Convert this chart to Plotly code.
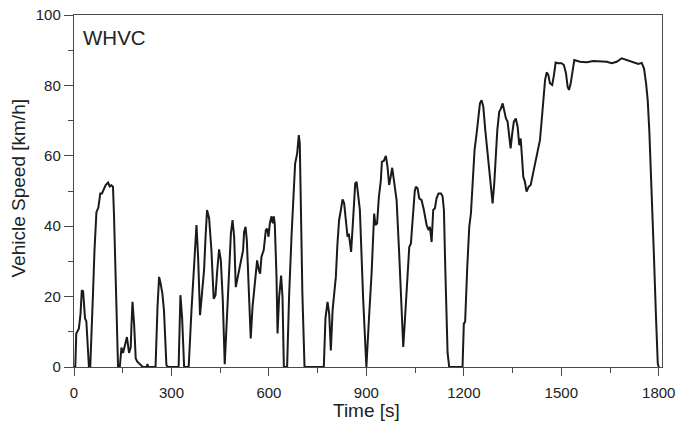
import plotly.graph_objects as go

time_s = [0, 4, 7, 15, 20, 24, 28, 31, 34, 38, 43, 46, 50, 54, 58.5, 63, 69, 75, 81, 86,
          91.5, 97.6, 105, 110, 115, 120, 123, 127, 130.6, 135.6, 141, 146, 151, 157, 163,
          169.5, 174.6, 177, 180, 185, 190, 195, 200, 212, 224, 226, 228, 251, 257, 262,
          266, 272, 277, 284.5, 290, 322, 327.6, 332.7, 339, 353, 361.6, 369.6, 377, 382,
          388, 394, 400.4, 405, 409.6, 416, 423, 430, 435.5, 441, 446.6, 452, 458, 464,
          470, 477.5, 483, 488, 493, 498, 505, 513.5, 520.5, 523.6, 528, 532, 538, 544,
          549.5, 556.6, 563.7, 569, 573, 577, 584, 590.5, 594.5, 598.8, 602.8, 608, 612,
          615, 618, 623.4, 626.5, 631.4, 637.6, 641.8, 646, 656, 662, 669.5, 674.5, 680.7,
          687, 692, 695, 698, 703, 709.6, 769, 774, 780.5, 785.5, 790.6, 796, 800, 806,
          811, 816, 821.5, 826.6, 831.6, 837, 842, 846, 849, 853, 859, 865.6, 870, 875,
          880, 890, 895, 900, 907.7, 916, 924, 928, 933, 938.5, 944.6, 947.7, 954, 960,
          965, 970, 974.5, 979.5, 984.7, 993, 1001, 1008.4, 1013.5, 1018.6, 1023.8, 1032,
          1037, 1044.4, 1049, 1052.6, 1057.7, 1062.8, 1070, 1077, 1085.5, 1091.6, 1095.7,
          1100.8, 1105.8, 1111, 1116, 1122, 1129.5, 1134.6, 1138.7, 1142.8, 1147, 1150,
          1155, 1196, 1200, 1204, 1210.5, 1216.7, 1221.8, 1227, 1233, 1239.4, 1244.4,
          1249.6, 1254.8, 1260, 1266, 1272, 1278, 1283.4, 1288.6, 1293.6, 1299, 1303,
          1309, 1314, 1319.5, 1324.4, 1329.6, 1334.7, 1340, 1344, 1349, 1354, 1360,
          1365.7, 1370.6, 1375, 1379, 1383, 1388, 1393, 1399.6, 1405.8, 1412, 1418, 1424,
          1430, 1434.4, 1439.6, 1444.5, 1450, 1455, 1460, 1465, 1472, 1477.5, 1482.6,
          1490.8, 1501, 1508, 1514.5, 1519.6, 1523.6, 1529, 1534, 1540, 1557.6, 1578,
          1598.6, 1619, 1640, 1655, 1670.6, 1686, 1701.4, 1721.8, 1737, 1747.6, 1754.7,
          1761, 1766, 1771, 1778, 1785, 1791.6, 1797, 1800]

speed_kmh = [0, 0, 9.5, 10.9, 15, 21.8, 21.5, 18, 13.8, 13, 1.9, 0, 0, 8, 20.9, 33, 44, 45.3,
             49.3, 49.3, 50.4, 51.7, 52.4, 51.3, 51.6, 51.2, 43.6, 30, 16, 0, 0, 5.5, 4.0,
             6.2, 8.5, 4.0, 5.6, 12, 18.5, 12.3, 2.4, 1.5, 1.0, 0, 0, 0.9, 0, 0, 17, 25.6,
             24, 20.9, 16, 0.5, 0, 0, 20.4, 14.2, 0, 0, 16.1, 30.3, 40.3, 31.3, 14.7, 20.9,
             27.5, 37, 44.6, 42.2, 33.2, 19.4, 20.4, 27.5, 33.4, 30.3, 19, 0.8, 13.3, 30.3,
             38, 41.7, 37, 22.7, 26, 30.3, 33.2, 38.4, 39.8, 36, 19, 8.1, 17, 23.7, 30.3,
             27.5, 26.5, 31.3, 33.2, 38.9, 39.3, 37, 40.8, 42.8, 40.8, 42.8, 40.8, 25.6,
             9.5, 19.9, 26, 19.9, 0, 0, 19.9, 37, 48.3, 57.8, 60.7, 65.9, 63.5, 44.6, 20.9,
             0, 0, 13.8, 18.5, 15.2, 4.7, 16.1, 20.9, 25.6, 35.1, 41.7, 44.6, 47.6, 46.5,
             41.7, 37, 37.9, 36, 32.7, 41.7, 52.1, 52.6, 49.3, 44.6, 19.5, 8, 0, 13.3,
             26.5, 43.6, 40.3, 40.8, 48.3, 53.1, 58.3, 58.6, 60, 56.9, 51.7, 53.9, 56.6,
             53.1, 47.4, 32.2, 13.3, 5.7, 13.3, 20.9, 34.1, 35, 44.6, 50, 51.2, 50.7, 47.9,
             47.4, 44.6, 40.3, 38.9, 39.8, 35.5, 44.6, 45.1, 47.9, 49.3, 49.3, 48.5, 44.6,
             28.4, 9.5, 4, 0, 0, 12.3, 12.8, 28.4, 39.8, 43.6, 52.1, 61.6, 66.4, 71.1, 74.9,
             75.8, 73.9, 67.3, 61.6, 55.9, 51.2, 46.5, 52.1, 61.6, 67.3, 72.5, 73.4, 74.9,
             73, 70.6, 69.7, 65.4, 62.1, 66.4, 69.7, 70.6, 68.2, 63, 64.9, 59.7, 54, 52.6,
             49.8, 51.2, 51.7, 54.5, 57.4, 59.7, 62.1, 64.5, 70, 76.5, 81.5, 83.7, 83, 80.6,
             80.1, 83, 86.5, 86.3, 86.3, 85.8, 83.4, 79.6, 78.7, 80.6, 84.4, 87.2, 86.7,
             86.6, 86.9, 86.8, 86.7, 86.3, 86.7, 87.7, 87.2, 86.7, 86.1, 86.4, 84.8, 80.6,
             75.8, 67, 51, 32, 14, 1, 0]

x_ticks = [0, 300, 600, 900, 1200, 1500, 1800]
y_ticks = [0, 20, 40, 60, 80, 100]

FONT = "Liberation Sans, Arial, sans-serif"
AXIS_COLOR = "#4a4a4a"
TEXT_COLOR = "#222222"

fig = go.Figure(go.Scatter(x=time_s, y=speed_kmh, mode="lines",
                           line=dict(color="#1a1a1a", width=2), showlegend=False,
                           hoverinfo="skip"))

fig.update_layout(
    width=679, height=427,
    margin=dict(l=74, r=17, t=15, b=60, autoexpand=False),
    paper_bgcolor="white", plot_bgcolor="white",
    font=dict(family=FONT, color=TEXT_COLOR),
)

fig.update_xaxes(
    range=[0, 1810], tickmode="array", tickvals=x_ticks, ticktext=[str(v) for v in x_ticks],
    ticks="outside", ticklen=8, tickwidth=1, tickcolor=AXIS_COLOR,
    minor=dict(ticks="outside", ticklen=5, tickwidth=1, tickcolor=AXIS_COLOR,
               tickvals=[150, 450, 750, 1050, 1350, 1650], showgrid=False),
    showline=True, linecolor=AXIS_COLOR, linewidth=1.2, mirror=True, automargin=False,
    showgrid=False, zeroline=False, tickfont=dict(size=15, family=FONT, color=TEXT_COLOR),
    ticklabelstandoff=4, ticklabeloverflow="allow",
)
fig.update_yaxes(
    range=[0, 100], tickmode="array", tickvals=y_ticks, ticktext=[str(v) for v in y_ticks],
    ticks="outside", ticklen=9, tickwidth=1, tickcolor=AXIS_COLOR,
    minor=dict(ticks="outside", ticklen=5, tickwidth=1, tickcolor=AXIS_COLOR,
               tickvals=[10, 30, 50, 70, 90], showgrid=False),
    showline=True, linecolor=AXIS_COLOR, linewidth=1.2, mirror=True, automargin=False,
    showgrid=False, zeroline=False, tickfont=dict(size=15, family=FONT, color=TEXT_COLOR),
    ticklabeloverflow="allow",
)

fig.add_annotation(text="Vehicle Speed [km/h]", xref="paper", yref="paper",
                   x=(17.5 - 74) / 588, y=(367 - 188) / 352, xanchor="center", yanchor="middle",
                   textangle=-90, showarrow=False, font=dict(size=19, family=FONT, color=TEXT_COLOR))
fig.add_annotation(text="Time [s]", xref="paper", yref="paper",
                   x=(366 - 74) / 588, y=(367 - 410) / 352, xanchor="center", yanchor="middle",
                   showarrow=False, font=dict(size=19, family=FONT, color=TEXT_COLOR))
fig.add_annotation(text="WHVC", xref="paper", yref="paper",
                   x=(81 - 74) / 588, y=(367 - 37) / 352, xanchor="left", yanchor="middle",
                   showarrow=False, font=dict(size=20.5, family=FONT, color=TEXT_COLOR))

# remove the browser's default 8px body margin so the 679x427 figure fills the window
fig.write_html("out.html",
               config={"displayModeBar": False, "staticPlot": True},
               post_script="document.body.style.margin='0';document.body.style.overflow='hidden';")
